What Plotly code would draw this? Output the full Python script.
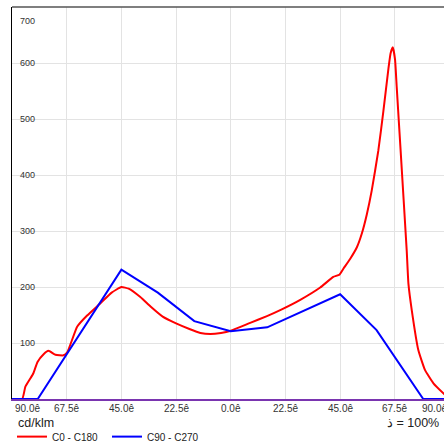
import plotly.graph_objects as go

# C0 - C180 (red)
red_angle = [-90, -85.8, -84.5, -82.4, -81.2, -79.5, -77, -75, -72.1, -68.8, -67.2, -63.2, -59.1,
             -53.6, -49, -45, -42, -37.2, -33, -28, -22.5, -17, -12.5, -8.4, -4, 0, 8, 14.9, 21,
             28.6, 36.8, 42.2, 44.7, 46.4, 49.1, 51.9, 53.9, 56, 58, 60.7, 62.8, 64.9, 65.8, 66.7,
             67.6, 68.3, 69.9, 72.4, 73.1, 74.5, 77.2, 79.9, 83.4, 87.5, 90]
red_value = [0, 0, 22, 37, 46, 66, 80, 86, 79, 78, 84, 129, 149,
             171, 190, 200, 197, 182, 165, 147, 135, 125, 118, 116, 118, 122, 136, 148, 160,
             177, 199, 218, 222, 233, 250, 271, 295, 330, 372, 443, 514, 591, 618, 628,
             606, 556, 443, 265, 206, 158, 87, 52, 28, 10, 0]

# C90 - C270 (blue)
blue_angle = [-90, -79.4, -45, -30, -15, 0, 15, 45, 60, 79.2, 90]
blue_value = [0, 0, 231, 190, 139, 121, 128, 187, 123, 0, 0]

x_tick_pos = [-90, -67.5, -45, -22.5, 0, 22.5, 45, 67.5, 90]
x_tick_text = ["90.0ê", "67.5ê", "45.0ê", "22.5ê", "0.0ê", "22.5ê", "45.0ê", "67.5ê", "90.0ê"]
y_tick_pos = [100, 200, 300, 400, 500, 600, 700]
y_tick_text = ["100", "200", "300", "400", "500", "600", "700"]

unit_label = "cd/klm"
eff_label = "\u200eذ\u200e = 100%"

fig = go.Figure()
fig.add_trace(go.Scatter(x=red_angle, y=red_value, mode="lines", name="C0 - C180",
                         line=dict(color="#ff0000", width=2, shape="spline", smoothing=0.4)))
fig.add_trace(go.Scatter(x=blue_angle, y=blue_value, mode="lines", name="C90 - C270",
                         line=dict(color="#0000ff", width=2)))

font_family = "Liberation Sans, Arial, sans-serif"
annotations = []
for i, (p, t) in enumerate(zip(x_tick_pos, x_tick_text)):
    if i == len(x_tick_pos) - 1:
        # last label sits at the plot's right edge
        annotations.append(dict(x=1, y=0, xref="paper", yref="y", text=t, showarrow=False,
                                xanchor="right", yanchor="middle", yshift=-9, xshift=5,
                                font=dict(size=10, color="#333", family=font_family)))
        continue
    anchor = "left" if i == 0 else "center"
    xs = 1 if i == 0 else 0
    annotations.append(dict(x=p, y=0, xref="x", yref="y", text=t, showarrow=False,
                            xanchor=anchor, yanchor="middle", yshift=-9, xshift=xs,
                            font=dict(size=10, color="#333", family=font_family)))
for p, t in zip(y_tick_pos, y_tick_text):
    ys = -14 if p == 700 else 0
    annotations.append(dict(x=0, y=p, xref="paper", yref="y", text=t, showarrow=False,
                            xanchor="left", yanchor="middle", xshift=6, yshift=ys,
                            font=dict(size=9, color="#333", family=font_family)))
annotations.append(dict(x=0, y=0, xref="paper", yref="y", text=unit_label, showarrow=False,
                        xanchor="left", yanchor="middle", yshift=-24, xshift=4,
                        font=dict(size=12.5, color="#222", family=font_family)))
annotations.append(dict(x=1, y=0, xref="paper", yref="y", text=eff_label, showarrow=False,
                        xanchor="right", yanchor="middle", yshift=-24, xshift=-3,
                        font=dict(size=12.5, color="#222", family=font_family)))

fig.update_layout(
    width=444, height=442,
    margin=dict(l=12, r=0, t=7, b=43, autoexpand=False),
    paper_bgcolor="white", plot_bgcolor="white",
    font=dict(family=font_family, color="#222"),
    showlegend=True,
    legend=dict(orientation="h", xref="container", yref="container",
                x=0.027, xanchor="left", y=0.045, yanchor="top",
                font=dict(size=10, color="#222"), itemwidth=30, entrywidth=50,
                tracegroupgap=0, bgcolor="rgba(0,0,0,0)"),
    annotations=annotations,
    shapes=[dict(type="line", xref="paper", yref="paper", x0=0, x1=1, y0=1, y1=1,
                 line=dict(color="#555", width=1.5))],
)
fig.update_xaxes(range=[-90, 87.74], tickvals=x_tick_pos[1:-1], showticklabels=False,
                 showgrid=True, gridcolor="#e3e3e3", gridwidth=1, zeroline=False,
                 showline=True, linecolor="#7a35b0", linewidth=2, ticks="")
fig.update_yaxes(range=[0, 700], tickvals=y_tick_pos[:-1], showticklabels=False,
                 showgrid=True, gridcolor="#e3e3e3", gridwidth=1, zeroline=False,
                 showline=True, linecolor="#000", linewidth=1, ticks="")

fig.write_html("out.html", config={"displayModeBar": False},
               post_script="document.body.style.margin='0';")
